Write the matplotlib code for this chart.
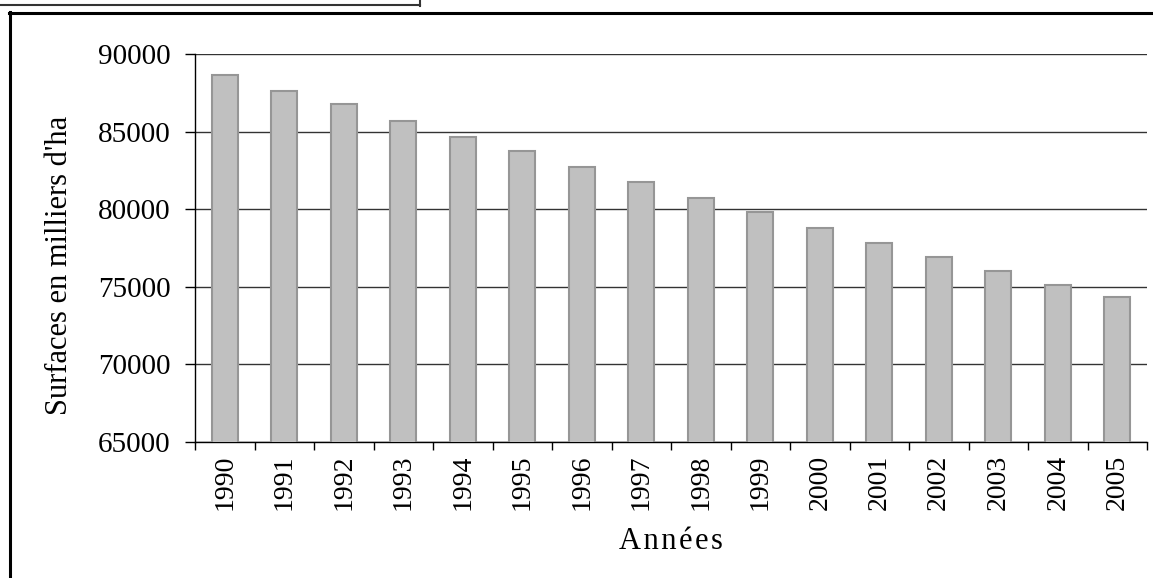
import matplotlib
matplotlib.use("Agg")
import matplotlib.pyplot as plt
from matplotlib.lines import Line2D

# Donnees
annees = ["1990", "1991", "1992", "1993", "1994", "1995", "1996", "1997",
          "1998", "1999", "2000", "2001", "2002", "2003", "2004", "2005"]
surfaces = [88670, 87630, 86750, 85680, 84650, 83720, 82690, 81760,
            80730, 79810, 78790, 77850, 76950, 76020, 75120, 74320]
yticks = [65000, 70000, 75000, 80000, 85000, 90000]

plt.rcParams['font.family'] = ['Liberation Serif', 'DejaVu Serif']

fig = plt.figure(figsize=(11.53, 5.78), dpi=100)
W, H = 1153, 578

# cadres autour du graphique
def ligne(x0, y0, x1, y1, lw, c):
    fig.add_artist(Line2D([x0 / W, x1 / W], [1 - y0 / H, 1 - y1 / H],
                          transform=fig.transFigure, lw=lw, color=c))

ligne(0, 5, 420, 5, 1.5, '#333333')
ligne(420, 0, 420, 6, 1.5, '#333333')
ligne(9, 12.5, W, 12.5, 2.2, 'black')
ligne(10, 12, 10, H, 2.2, 'black')

ax = fig.add_axes([195 / W, 1 - 442 / H, 952 / W, 388 / H])
x = list(range(len(annees)))
ax.bar(x, surfaces, width=0.44, color='#c0c0c0', edgecolor='#969696',
       linewidth=1.5, zorder=3)

ax.set_xlim(-0.5, len(annees) - 0.5)
ax.set_ylim(65000, 90000)
ax.set_yticks(yticks)
ax.set_yticklabels([str(v) for v in yticks], fontsize=21)
ax.yaxis.grid(True, color='#333333', linewidth=1, zorder=0)
ax.set_axisbelow(True)

# graduations entre les categories
ax.set_xticks([i - 0.5 for i in range(len(annees) + 1)])
ax.set_xticklabels([])
ax.set_xticks(x, minor=True)
ax.set_xticklabels(annees, minor=True, rotation=90, fontsize=20)
ax.tick_params(axis='x', which='major', direction='out', length=6, width=1)
ax.tick_params(axis='x', which='minor', length=0, pad=9)
ax.tick_params(axis='y', direction='out', length=7.5, width=1, pad=10)

for s in ['top', 'right']:
    ax.spines[s].set_visible(False)
ax.spines['left'].set_linewidth(1)
ax.spines['bottom'].set_linewidth(1)

ax.set_ylabel("Surfaces en milliers d'ha", fontsize=22)
ax.yaxis.set_label_coords(-0.127, 0.456)
ax.set_xlabel("A\u200an\u200an\u200aé\u200ae\u200as", fontsize=22)
ax.xaxis.set_label_coords(0.5, -0.22)

fig.savefig("out.png", dpi=100)
